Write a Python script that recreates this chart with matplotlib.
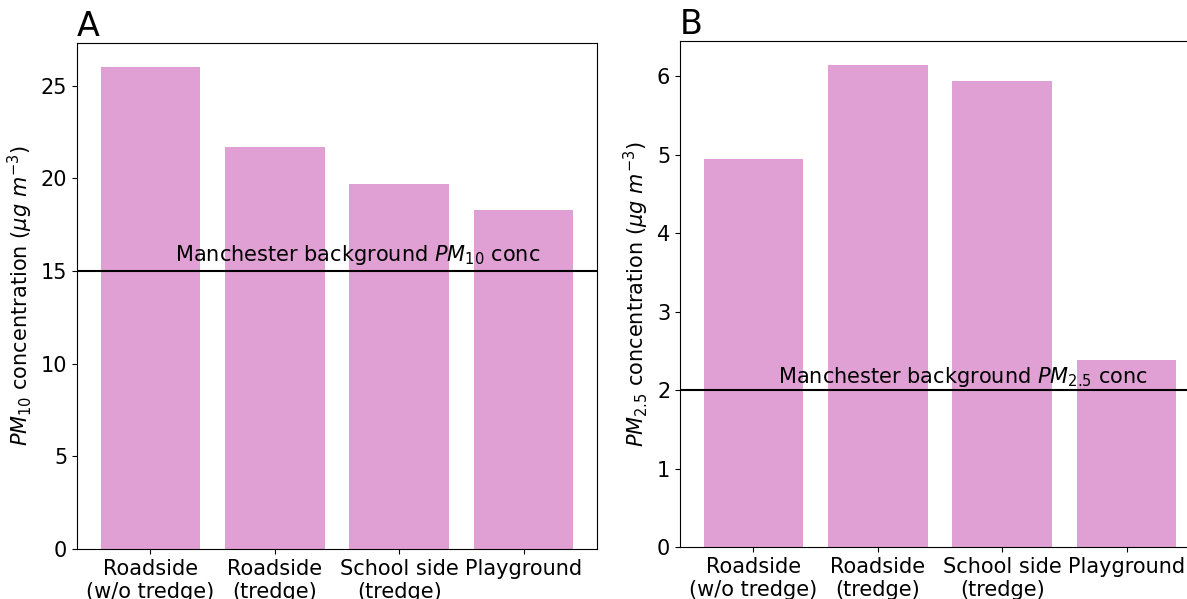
import matplotlib
matplotlib.use("Agg")
import matplotlib.pyplot as plt

# Sampling sites shared by both panels
sites = ["Roadside\n(w/o tredge)", "Roadside\n(tredge)", "School side\n(tredge)", "Playground"]

# Mean concentrations at each site (µg m^-3)
pm10 = [26.0, 21.7, 19.7, 18.3]
pm25 = [4.95, 6.14, 5.94, 2.38]

# Manchester urban background levels
pm10_background = 15.0
pm25_background = 2.0

bar_color = "#e0a0d4"

fig = plt.figure(figsize=(11.87, 5.99), dpi=100)
ax_a = fig.add_axes([0.0649, 0.0835, 0.438, 0.8447])
ax_b = fig.add_axes([0.5729, 0.0868, 0.438, 0.8447])

label_fs = 15
tick_fs = 15

panels = [
    (ax_a, pm10, pm10_background, "A", "10", 0.53),
    (ax_b, pm25, pm25_background, "B", "2.5", 0.09),
]

for ax, values, background, letter, sub, text_offset in panels:
    x = range(len(sites))
    ax.bar(x, values, width=0.8, color=bar_color)
    ax.axhline(background, color="black", linewidth=1.5)
    ax.text(0.2, background + text_offset,
            "Manchester background $PM_{%s}$ conc" % sub,
            ha="left", va="baseline", fontsize=15)
    ax.set_xticks(list(x))
    ax.set_xticklabels(sites, fontsize=tick_fs)
    ax.tick_params(axis="y", labelsize=tick_fs)
    ax.set_ylabel("$PM_{%s}$ concentration ($\\mu g\\ m^{-3}$)" % sub, fontsize=label_fs)
    ax.set_title(letter, loc="left", fontsize=24, pad=3)

fig.savefig("out.png", dpi=100)
